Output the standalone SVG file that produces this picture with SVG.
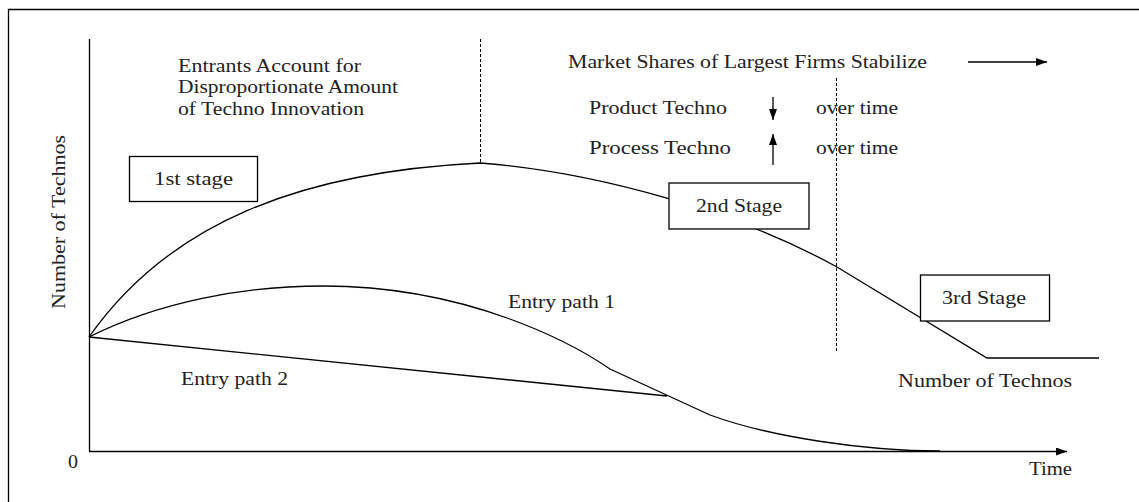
<svg xmlns="http://www.w3.org/2000/svg" width="1139" height="502" viewBox="0 0 1139 502">
<style>
text{font-family:"Liberation Serif","Times New Roman",serif;font-size:18px;fill:#222}
.ln{fill:none;stroke:#000;stroke-width:1.3}
.dash{fill:none;stroke:#000;stroke-width:1;stroke-dasharray:3 2}
.box{fill:#fff;stroke:#000;stroke-width:1.3}
</style>
<defs>
<marker id="ah" viewBox="0 0 11 8" refX="11" refY="4" markerWidth="11" markerHeight="8" markerUnits="userSpaceOnUse" orient="auto">
<path d="M0,0 L11,4 L0,8 z" fill="#000"/>
</marker>
</defs>
<rect width="1139" height="502" fill="#fff"/>
<path class="ln" d="M8.5,502 V9.5 H1139" stroke-width="1.2"/>

<g id="connectors">
<line class="ln" x1="89.5" y1="39" x2="89.5" y2="451.5"/>
<line class="ln" x1="89" y1="451.5" x2="1067" y2="451.5" marker-end="url(#ah)"/>
<line class="dash" x1="480.5" y1="39" x2="480.5" y2="163"/>
<line class="dash" x1="836.5" y1="78" x2="836.5" y2="353"/>
<path class="ln" d="M89,337 C169,223 300,172 480,163 C600,172.6 737,212 837,267 L987,358 L1099,358"/>
<path class="ln" d="M89,337 C159,302 243,286 323,286 C470,286 575,345 610,369 L710,415 C770,437 865,451 940,451"/>
<line class="ln" x1="89" y1="337" x2="667" y2="396"/>
<line class="ln" x1="968" y1="62" x2="1047" y2="62" marker-end="url(#ah)"/>
<line class="ln" x1="773" y1="97" x2="773" y2="120" marker-end="url(#ah)"/>
<line class="ln" x1="773" y1="165" x2="773" y2="134" marker-end="url(#ah)"/>
</g>

<g id="stage1">
<rect class="box" x="129.5" y="156.5" width="128" height="45"/>
<text x="154" y="185" textLength="79" lengthAdjust="spacingAndGlyphs">1st stage</text>
</g>
<g id="stage2">
<rect class="box" x="669" y="183" width="140" height="46"/>
<text x="696" y="212" textLength="86" lengthAdjust="spacingAndGlyphs">2nd Stage</text>
</g>
<g id="stage3">
<rect class="box" x="920.5" y="275" width="129" height="46"/>
<text x="942" y="304" textLength="84" lengthAdjust="spacingAndGlyphs">3rd Stage</text>
</g>

<g id="entrants-note">
<text x="178" y="72" textLength="183" lengthAdjust="spacingAndGlyphs">Entrants Account for</text>
<text x="178" y="93" textLength="220" lengthAdjust="spacingAndGlyphs">Disproportionate Amount</text>
<text x="178" y="115" textLength="186" lengthAdjust="spacingAndGlyphs">of Techno Innovation</text>
</g>
<g id="market-note">
<text x="568" y="68" textLength="359" lengthAdjust="spacingAndGlyphs">Market Shares of Largest Firms Stabilize</text>
<text x="589" y="114" textLength="138" lengthAdjust="spacingAndGlyphs">Product Techno</text>
<text x="816" y="114" textLength="82" lengthAdjust="spacingAndGlyphs">over time</text>
<text x="589" y="154" textLength="142" lengthAdjust="spacingAndGlyphs">Process Techno</text>
<text x="816" y="154" textLength="82" lengthAdjust="spacingAndGlyphs">over time</text>
</g>
<g id="labels">
<text x="508" y="308" textLength="107" lengthAdjust="spacingAndGlyphs">Entry path 1</text>
<text x="181" y="385" textLength="107" lengthAdjust="spacingAndGlyphs">Entry path 2</text>
<text x="898" y="387" textLength="174" lengthAdjust="spacingAndGlyphs">Number of Technos</text>
<text x="68" y="468" textLength="10" lengthAdjust="spacingAndGlyphs">0</text>
<text x="1029" y="475" textLength="43" lengthAdjust="spacingAndGlyphs">Time</text>
<text transform="translate(65,309) rotate(-90)" x="0" y="0" textLength="174" lengthAdjust="spacingAndGlyphs">Number of Technos</text>
</g>
</svg>
